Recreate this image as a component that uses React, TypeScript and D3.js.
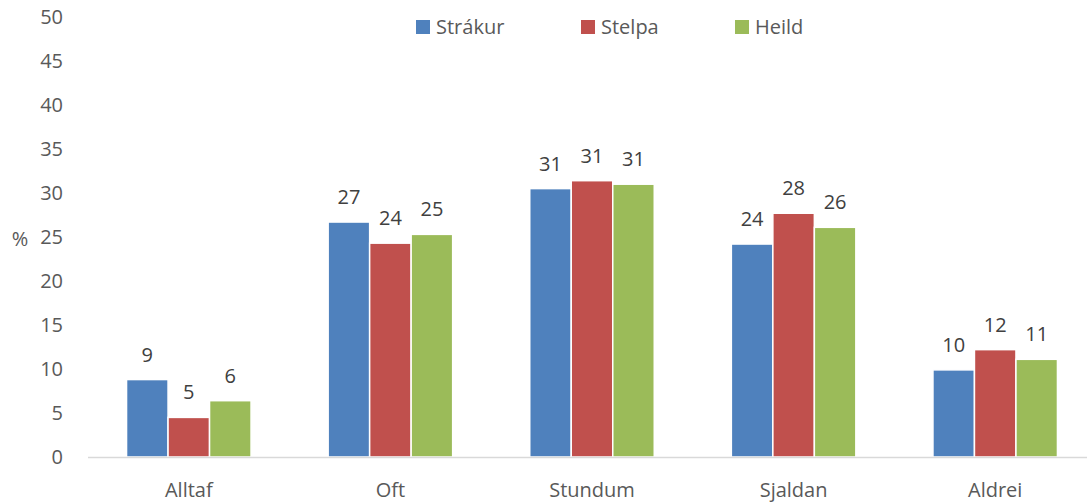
import React from "react";
import * as d3 from "d3";

const categories = ["Alltaf", "Oft", "Stundum", "Sjaldan", "Aldrei"];
const seriesNames = ["Strákur", "Stelpa", "Heild"];
const strakur = [8.8, 26.7, 30.5, 24.2, 9.9];
const stelpa = [4.5, 24.3, 31.4, 27.7, 12.2];
const heild = [6.4, 25.3, 31.0, 26.1, 11.1];
const colors = ["#4F81BD", "#C0504D", "#9BBB59"];
const yTicks = [0, 5, 10, 15, 20, 25, 30, 35, 40, 45, 50];

const W = 1087;
const H = 504;
const FONT = "'Open Sans', 'Noto Sans', sans-serif";
const FS = 20;

export default function App() {
  const series = [strakur, stelpa, heild];
  const x = d3.scaleBand<string>().domain(categories).range([88, 1096]);
  const y = d3.scaleLinear().domain([0, 50]).range([457, 17]);
  const barW = 41.5;
  const groupW = barW * 3;

  return (
    <svg width={W} height={H} style={{ position: "absolute", left: 0, top: 0, background: "#fff" }}>
      {yTicks.map((t) => (
        <text key={t} x={63} y={y(t)} dy="0.35em" textAnchor="end" fontFamily={FONT} fontSize={FS} fill="#595959">
          {t}
        </text>
      ))}
      <text x={20} y={239} dy="0.35em" textAnchor="middle" fontFamily={FONT} fontSize={FS} fill="#595959">%</text>
      {categories.map((c, ci) => {
        const cx = (x(c) as number) + x.bandwidth() / 2;
        return (
          <g key={c}>
            {series.map((s, si) => {
              const bx = cx - groupW / 2 + si * barW;
              const v = s[ci];
              return (
                <g key={si}>
                  <rect x={bx} y={y(v)} width={barW} height={y(0) - y(v)} fill={colors[si]} stroke="#fff" strokeWidth={1.5} />
                  <text x={bx + barW / 2} y={y(v) - 25} dy="0.35em" textAnchor="middle" fontFamily={FONT} fontSize={FS} fill="#404040">
                    {Math.round(v)}
                  </text>
                </g>
              );
            })}
            <text x={cx} y={490} dy="0.35em" textAnchor="middle" fontFamily={FONT} fontSize={FS} fill="#595959">{c}</text>
          </g>
        );
      })}
      <line x1={88} x2={1096} y1={y(0) + 0.5} y2={y(0) + 0.5} stroke="#D9D9D9" strokeWidth={1.5} />
      {seriesNames.map((n, i) => {
        const lx = [416, 581, 735][i];
        return (
          <g key={n}>
            <rect x={lx} y={20} width={14} height={14} fill={colors[i]} />
            <text x={lx + 20} y={27} dy="0.35em" fontFamily={FONT} fontSize={FS} fill="#595959">{n}</text>
          </g>
        );
      })}
    </svg>
  );
}
